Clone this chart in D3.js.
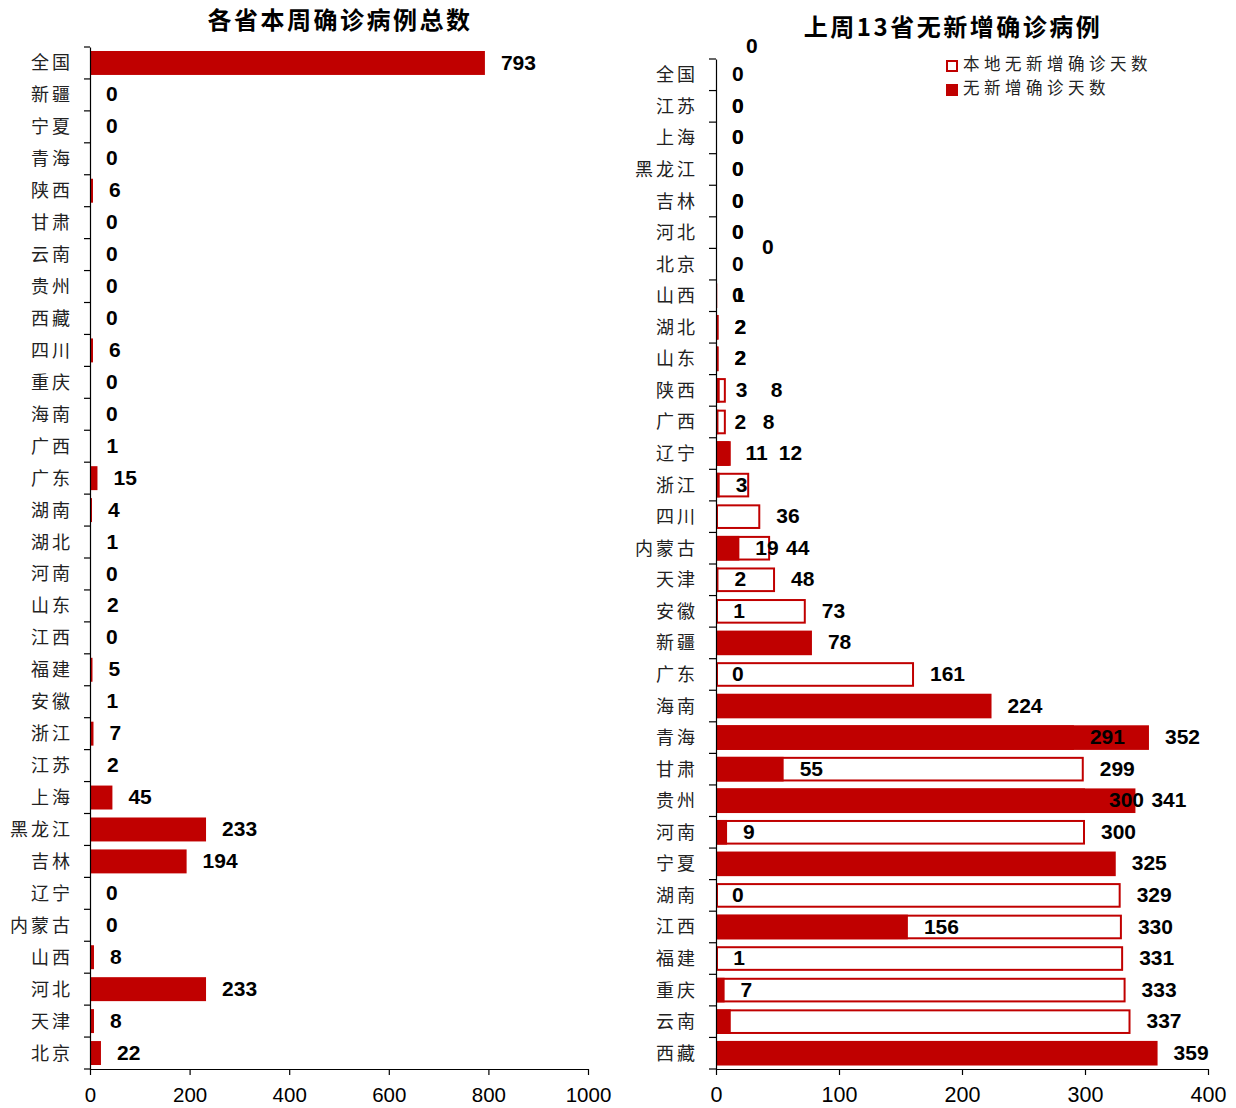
<!DOCTYPE html>
<html>
<head>
<meta charset="utf-8">
<script src="https://cdn.jsdelivr.net/npm/d3@7/dist/d3.min.js"></script>
<style>
  html, body { margin: 0; padding: 0; background: #fff; }
  svg { display: block; }
  .cat text { font-family: "Noto Sans CJK SC", sans-serif; font-size: 18px; letter-spacing: 3px; fill: #222; }
  .num { font-family: "Liberation Sans", Arial, sans-serif; font-weight: bold; font-size: 21px; fill: #000; }
  .xaxis text { font-family: "Liberation Sans", Arial, sans-serif; fill: #000; }
  .title { font-family: "Noto Sans CJK SC", sans-serif; font-weight: bold; font-size: 24px; letter-spacing: 2.5px; fill: #000; }
  .legend text { font-family: "Noto Sans CJK SC", sans-serif; font-size: 16.5px; letter-spacing: 4.5px; fill: #222; }
</style>
</head>
<body>
<svg id="chart" width="1236" height="1108"></svg>
<script>
// ---- Left panel: confirmed cases this week, by province ----
const weekProvinces = ["全国","新疆","宁夏","青海","陕西","甘肃","云南","贵州","西藏","四川","重庆","海南",
  "广西","广东","湖南","湖北","河南","山东","江西","福建","安徽","浙江","江苏","上海","黑龙江","吉林",
  "辽宁","内蒙古","山西","河北","天津","北京"];
const weekCases = [793,0,0,0,6,0,0,0,0,6,0,0,1,15,4,1,0,2,0,5,1,7,2,45,233,194,0,0,8,233,8,22];
const weekTicks = [0,200,400,600,800,1000];

// ---- Right panel: days without new confirmed cases ----
const dayProvinces = ["全国","江苏","上海","黑龙江","吉林","河北","北京","山西","湖北","山东","陕西","广西",
  "辽宁","浙江","四川","内蒙古","天津","安徽","新疆","广东","海南","青海","甘肃","贵州","河南","宁夏",
  "湖南","江西","福建","重庆","云南","西藏"];
// 本地无新增确诊天数 (outlined bars)
const localDays = [0,0,0,0,0,0,0,0,2,2,8,8,12,27,36,44,48,73,null,161,null,291,299,300,300,null,329,330,331,333,337,null];
// 无新增确诊天数 (filled bars)
const allDays = [0,0,0,0,0,0,0,1,2,2,3,2,11,3,null,19,2,1,78,0,224,352,55,341,9,325,0,156,1,7,12,359];
const dayTicks = [0,100,200,300,400];

const RED = "#C00000";
const svg = d3.select("#chart");

// labels that are not printed
const hiddenLocal = new Set(["浙江"]);
const hiddenAll = new Set(["云南"]);
// labels pushed aside so they do not collide with neighbours
const localLabelShift = {
  "全国": [14, -28], "北京": [30, -17],
  "陕西": [29, 0], "广西": [21, 0], "辽宁": [32, 0], "贵州": [8, 0]
};

function yAxisWithBoundaryTicks(g, y, x0, tickLen, pad) {
  const ax = d3.axisLeft(y).tickSize(0).tickPadding(pad);
  const a = g.append("g").attr("class", "cat").attr("transform", `translate(${x0},0)`).call(ax);
  a.select(".domain").attr("stroke", "#000").attr("stroke-width", 1.2);
  a.selectAll("text").attr("dy", "0.36em");
  const b = y.range();
  const edges = y.domain().map((d, i) => b[0] + i * y.step());
  edges.push(b[1]);
  g.append("g").selectAll("line").data(edges).join("line")
    .attr("x1", x0 - tickLen).attr("x2", x0)
    .attr("y1", d => d).attr("y2", d => d)
    .attr("stroke", "#000").attr("stroke-width", 1.2);
}

function xAxis(g, x, ticks, yPos, fontSize, pad) {
  const ax = d3.axisBottom(x).tickValues(ticks).tickSize(6).tickSizeOuter(0).tickPadding(pad).tickFormat(d3.format("d"));
  const a = g.append("g").attr("class", "xaxis").attr("transform", `translate(0,${yPos})`).call(ax);
  a.select(".domain").attr("stroke", "#000").attr("stroke-width", 1.2);
  a.selectAll(".tick line").attr("stroke", "#000").attr("stroke-width", 1.2);
  a.selectAll("text").style("font-size", fontSize + "px");
}

// ---------- Left panel ----------
{
  const x = d3.scaleLinear().domain([0, 1000]).range([90, 588]);
  const y = d3.scaleBand().domain(weekProvinces).range([47, 1069]).paddingInner(0.25).paddingOuter(0.125);
  const g = svg.append("g");
  const rows = weekProvinces.map((p, i) => ({ p, v: weekCases[i] }));

  g.append("g").selectAll("rect").data(rows.filter(d => d.v > 0)).join("rect")
    .attr("x", x(0)).attr("y", d => y(d.p))
    .attr("width", d => x(d.v) - x(0)).attr("height", y.bandwidth())
    .attr("fill", RED);

  g.append("g").selectAll("text").data(rows).join("text")
    .attr("class", "num")
    .attr("x", d => x(d.v) + 16).attr("y", d => y(d.p) + y.bandwidth() / 2 + 1)
    .attr("dominant-baseline", "middle")
    .text(d => d.v);

  yAxisWithBoundaryTicks(g, y, x(0), 6, 17);
  xAxis(g, x, weekTicks, 1069, 20.5, 12);

  svg.append("text").attr("class", "title").attr("x", 340).attr("y", 29)
    .attr("text-anchor", "middle").text("各省本周确诊病例总数");
}

// ---------- Right panel ----------
{
  const x = d3.scaleLinear().domain([0, 400]).range([716, 1208]);
  const y = d3.scaleBand().domain(dayProvinces).range([59, 1069]).paddingInner(0.22).paddingOuter(0.11);
  const g = svg.append("g");
  const rows = dayProvinces.map((p, i) => ({ p, local: localDays[i], all: allDays[i] }));

  // outlined bars underneath
  g.append("g").selectAll("rect").data(rows.filter(d => d.local > 0)).join("rect")
    .attr("x", x(0) + 1).attr("y", d => y(d.p) + 1)
    .attr("width", d => Math.max(0, x(d.local) - x(0) - 2)).attr("height", y.bandwidth() - 2)
    .attr("fill", "#fff").attr("stroke", RED).attr("stroke-width", 2);

  // filled bars on top
  g.append("g").selectAll("rect").data(rows.filter(d => d.all > 0)).join("rect")
    .attr("x", x(0)).attr("y", d => y(d.p))
    .attr("width", d => x(d.all) - x(0)).attr("height", y.bandwidth())
    .attr("fill", RED);

  const labels = [];
  rows.forEach(d => {
    if (d.local !== null && !hiddenLocal.has(d.p)) {
      const s = localLabelShift[d.p] || [0, 0];
      labels.push({ p: d.p, v: d.local, dx: s[0], dy: s[1] });
    }
    if (d.all !== null && !hiddenAll.has(d.p)) labels.push({ p: d.p, v: d.all, dx: 0, dy: 0 });
  });
  g.append("g").selectAll("text").data(labels).join("text")
    .attr("class", "num")
    .attr("x", d => x(d.v) + 16 + d.dx).attr("y", d => y(d.p) + y.bandwidth() / 2 + 1 + d.dy)
    .attr("dominant-baseline", "middle")
    .text(d => d.v);

  yAxisWithBoundaryTicks(g, y, x(0), 7, 18);
  xAxis(g, x, dayTicks, 1069, 21.5, 12);

  svg.append("text").attr("class", "title").attr("x", 953).attr("y", 36)
    .attr("text-anchor", "middle").text("上周13省无新增确诊病例");

  const lg = svg.append("g").attr("class", "legend");
  lg.append("rect").attr("x", 947).attr("y", 61).attr("width", 10).attr("height", 10)
    .attr("fill", "#fff").attr("stroke", RED).attr("stroke-width", 2);
  lg.append("text").attr("x", 963).attr("y", 66).attr("dominant-baseline", "middle").text("本地无新增确诊天数");
  lg.append("rect").attr("x", 946).attr("y", 84).attr("width", 12).attr("height", 12).attr("fill", RED);
  lg.append("text").attr("x", 963).attr("y", 90).attr("dominant-baseline", "middle").text("无新增确诊天数");
}
</script>
</body>
</html>
